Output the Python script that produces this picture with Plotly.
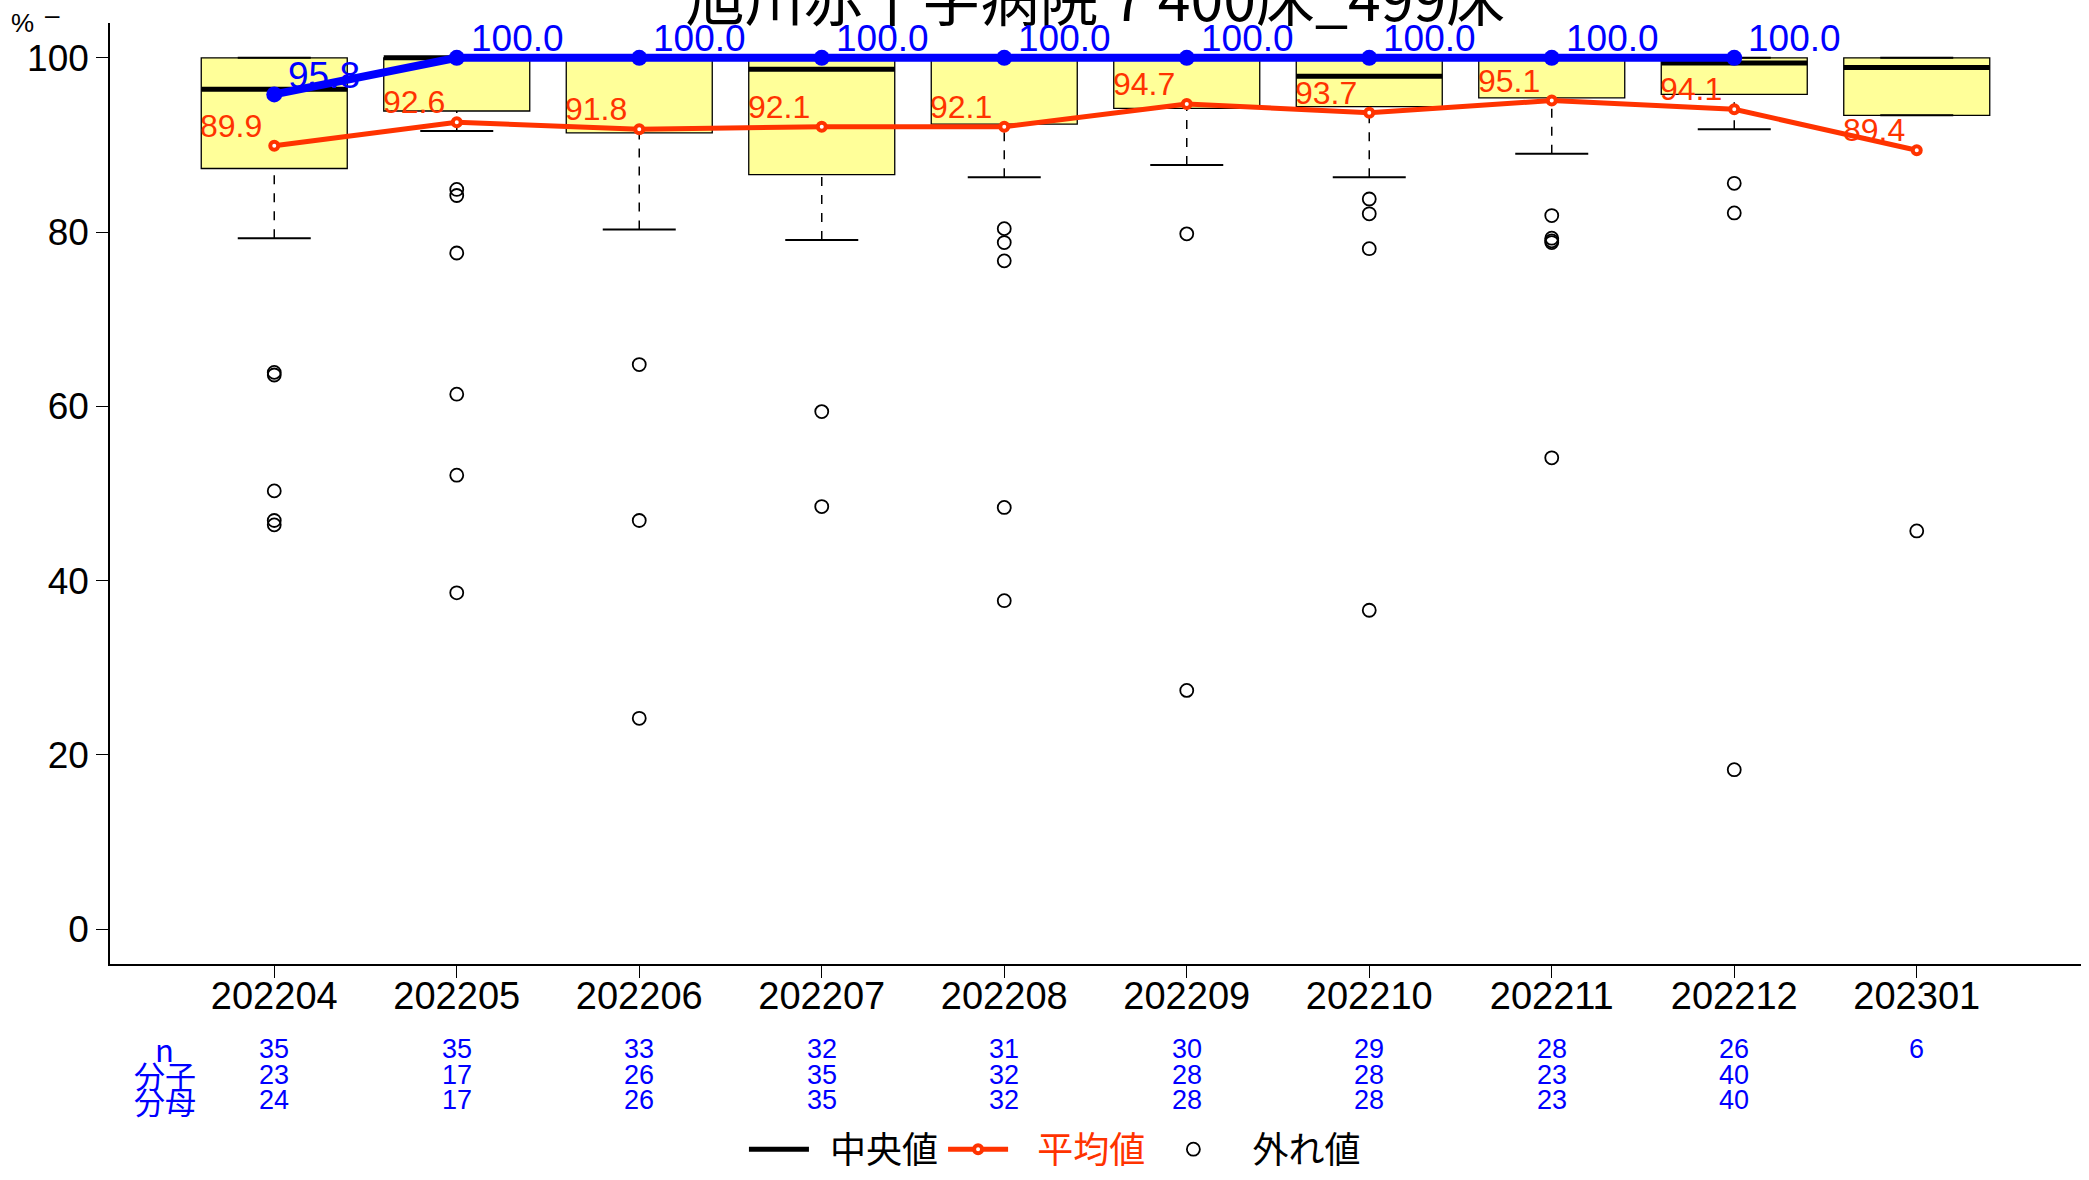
import plotly.graph_objects as go

months = ["202204", "202205", "202206", "202207", "202208",
          "202209", "202210", "202211", "202212", "202301"]
q1 = [87.3, 93.9, 91.4, 86.6, 92.4, 94.2, 94.4, 95.4, 95.8, 93.4]
med = [96.4, 100.0, 100.0, 98.7, 100.0, 100.0, 97.9, 100.0, 99.4, 98.9]
q3 = [100.0] * 10
lo_whisk = [79.3, 91.6, 80.3, 79.1, 86.3, 87.7, 86.3, 89.0, 91.8, 93.4]
hi_whisk = [100.0] * 10
means = [89.9, 92.6, 91.8, 92.1, 92.1, 94.7, 93.7, 95.1, 94.1, 89.4]
hosp = [95.8, 100.0, 100.0, 100.0, 100.0, 100.0, 100.0, 100.0, 100.0, None]
outliers = [
    [63.9, 63.6, 50.3, 46.9, 46.4],
    [84.9, 84.2, 77.6, 61.4, 52.1, 38.6],
    [64.8, 46.9, 24.2],
    [59.4, 48.5],
    [80.4, 78.8, 76.7, 48.4, 37.7],
    [79.8, 27.4],
    [83.8, 82.1, 78.1, 36.6],
    [81.9, 79.3, 79.0, 78.8, 54.1],
    [85.6, 82.2, 18.3],
    [45.7],
]
n_vals = [35, 35, 33, 32, 31, 30, 29, 28, 26, 6]
numer = [23, 17, 26, 35, 32, 28, 28, 23, 40, None]
denom = [24, 17, 26, 35, 32, 28, 28, 23, 40, None]
row_labels = ["n", "分子", "分母"]
title_text = "旭川赤十字病院 7 400床_499床"

FONT = "Liberation Sans, Arial, sans-serif"
CJK = "Noto Sans CJK JP, Liberation Sans, sans-serif"
BOX_W = 0.8
CAP_W = 0.4
RED = "#FF3300"
BLUE = "#0000FF"

xs = list(range(1, len(months) + 1))

fig = go.Figure()

# boxes
fig.add_trace(go.Box(
    x=xs, q1=q1, median=med, q3=q3, lowerfence=q1, upperfence=q3,
    width=BOX_W, fillcolor="#FFFF99", line=dict(color="black", width=1.3),
    boxpoints=False, showlegend=False, hoverinfo="skip",
))

# whiskers (dashed), caps, medians
wx, wy, cx, cy, mx, my = [], [], [], [], [], []
for i, x in enumerate(xs):
    wx += [x, x, None, x, x, None]
    wy += [lo_whisk[i], q1[i], None, q3[i], hi_whisk[i], None]
    for v in (lo_whisk[i], hi_whisk[i]):
        cx += [x - CAP_W / 2, x + CAP_W / 2, None]
        cy += [v, v, None]
    mx += [x - BOX_W / 2, x + BOX_W / 2, None]
    my += [med[i], med[i], None]

fig.add_trace(go.Scatter(x=wx, y=wy, mode="lines",
                         line=dict(color="black", width=1.5, dash="dash"),
                         showlegend=False, hoverinfo="skip"))
fig.add_trace(go.Scatter(x=cx, y=cy, mode="lines",
                         line=dict(color="black", width=2),
                         showlegend=False, hoverinfo="skip"))
fig.add_trace(go.Scatter(x=mx, y=my, mode="lines",
                         line=dict(color="black", width=5),
                         name="\u00a0\u00a0中央値", legendrank=1))

# outliers
ox, oy = [], []
for i, x in enumerate(xs):
    for v in outliers[i]:
        ox.append(x)
        oy.append(v)
fig.add_trace(go.Scatter(x=ox, y=oy, mode="markers",
                         marker=dict(symbol="circle-open", size=13,
                                     color="black", line=dict(width=1.8)),
                         name="\u00a0\u00a0\u00a0外れ値", legendrank=3))

# mean line
fig.add_trace(go.Scatter(
    x=xs, y=means, mode="lines+markers",
    line=dict(color=RED, width=5),
    marker=dict(symbol="circle", size=8, color="white",
                line=dict(color=RED, width=4)),
    name="\u00a0\u00a0\u00a0<span style='color:#FF3300'>平均値</span>\u00a0",
    legendrank=2, cliponaxis=False,
))

# hospital line
hx = [x for x, v in zip(xs, hosp) if v is not None]
hy = [v for v in hosp if v is not None]
fig.add_trace(go.Scatter(
    x=hx, y=hy, mode="lines+markers",
    line=dict(color=BLUE, width=8),
    marker=dict(symbol="circle", size=16, color=BLUE),
    showlegend=False, cliponaxis=False,
))

# value labels
for x, v in zip(xs, means):
    fig.add_annotation(x=x, y=v, xref="x", yref="y", text=f"{v:.1f}",
                       showarrow=False, xanchor="right", yanchor="middle",
                       xshift=-10, yshift=20,
                       font=dict(color=RED, size=32, family=FONT))
for x, v in zip(hx, hy):
    fig.add_annotation(x=x, y=v, xref="x", yref="y", text=f"{v:.1f}",
                       showarrow=False, xanchor="left", yanchor="middle",
                       xshift=12, yshift=19,
                       font=dict(color=BLUE, size=37, family=FONT))

# table under axis
row_y = [-0.090, -0.1175, -0.145]
for r, lab in enumerate(row_labels):
    fig.add_annotation(x=0.4, y=row_y[r], xref="x", yref="paper", text=lab,
                       showarrow=False, font=dict(color=BLUE, size=31, family=CJK),
                       xanchor="center", yanchor="middle")
for i, x in enumerate(xs):
    for r, arr in enumerate((n_vals, numer, denom)):
        if arr[i] is None:
            continue
        fig.add_annotation(x=x, y=row_y[r], xref="x", yref="paper", text=str(arr[i]),
                           showarrow=False, font=dict(color=BLUE, size=27, family=FONT),
                           xanchor="center", yanchor="middle")

# unit label
fig.add_annotation(xref="paper", yref="paper", x=-0.0445, y=1.0, text="%",
                   showarrow=False, font=dict(size=26, color="black", family=FONT),
                   xanchor="center", yanchor="middle")
fig.add_annotation(xref="paper", yref="paper", x=-0.029, y=1.008, text="–",
                   showarrow=False, font=dict(size=26, color="black", family=FONT),
                   xanchor="center", yanchor="middle")

fig.update_layout(
    width=2089, height=1180,
    margin=dict(l=110, r=8, t=23, b=216),
    plot_bgcolor="white", paper_bgcolor="white",
    font=dict(family=FONT, color="black"),
    title=dict(text=title_text, x=0.5, xref="paper", y=1.0, yref="container",
               xanchor="center", yanchor="middle",
               font=dict(size=59, family=CJK, color="black")),
    xaxis=dict(range=[0.1, 10.9], tickvals=xs, ticktext=months,
               showline=True, linecolor="black", linewidth=1.5,
               ticks="outside", ticklen=12, tickcolor="black",
               ticklabelstandoff=-14,
               showgrid=False, zeroline=False,
               tickfont=dict(size=38, family=FONT)),
    yaxis=dict(range=[-4, 104], tickvals=[0, 20, 40, 60, 80, 100],
               showline=True, linecolor="black", linewidth=1.5,
               ticks="outside", ticklen=12, tickcolor="black",
               showgrid=False, zeroline=False,
               tickfont=dict(size=37, family=FONT)),
    legend=dict(orientation="h", xref="container", yref="container",
                x=0.505, y=0.026, xanchor="center", yanchor="middle",
                font=dict(size=36, family=CJK, color="black"),
                itemwidth=60),
    showlegend=True,
)

fig.write_html("out.html", config={"displayModeBar": False},
               post_script="document.body.style.margin='0';")
